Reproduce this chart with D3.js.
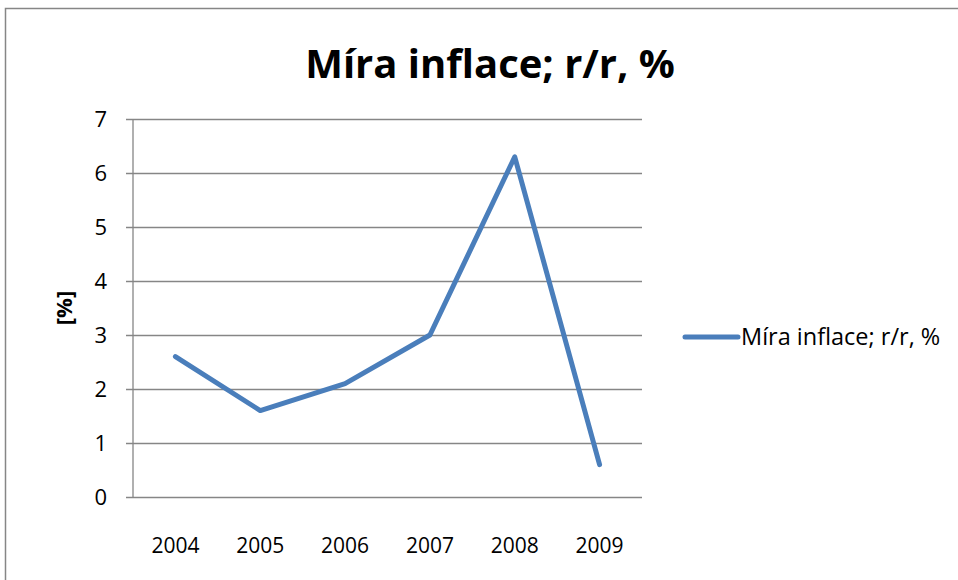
<!DOCTYPE html>
<html>
<head>
<meta charset="utf-8">
<script src="https://cdn.jsdelivr.net/npm/d3@7"></script>
<style>
  body { margin: 0; background: #fff; }
  text { font-family: "Open Sans", Lato, sans-serif; fill: #000; }
</style>
</head>
<body>
<div id="chart"></div>
<script>
var years = ["2004", "2005", "2006", "2007", "2008", "2009"];
var inflation = [2.6, 1.6, 2.1, 3.0, 6.3, 0.6];
var yTicks = [0, 1, 2, 3, 4, 5, 6, 7];
var seriesName = "Míra inflace; r/r, %";
var chartTitle = "Míra inflace; r/r, %";
var yTitle = "[%]";

var width = 958, height = 580;
var plot = { left: 133, right: 642, top: 119, bottom: 497 };

var svg = d3.select("#chart")
    .append("svg")
    .attr("width", width)
    .attr("height", height);

// outer chart border
svg.append("rect")
    .attr("x", 5.5)
    .attr("y", 8.5)
    .attr("width", 960)
    .attr("height", 600)
    .attr("fill", "none")
    .attr("stroke", "#868686")
    .attr("stroke-width", 1.5);

var x = d3.scaleBand()
    .domain(years)
    .range([plot.left, plot.right]);

var y = d3.scaleLinear()
    .domain([0, 7])
    .range([plot.bottom, plot.top]);

// gridlines + left ticks
var yAxis = svg.append("g")
    .attr("transform", `translate(${plot.left},0)`)
    .call(d3.axisLeft(y)
        .tickValues(yTicks)
        .tickSize(-(plot.right - plot.left))
        .tickPadding(0)
        .tickFormat(""));
yAxis.select(".domain").remove();
yAxis.selectAll(".tick line")
    .attr("stroke", "#868686")
    .attr("stroke-width", 1.3)
    .attr("x1", -7);

yAxis.selectAll(".tick")
    .append("text")
    .attr("x", -26)
    .attr("dy", "0.36em")
    .attr("text-anchor", "end")
    .style("font-size", "22px")
    .text(d => d);

// vertical axis line
svg.append("line")
    .attr("x1", plot.left).attr("x2", plot.left)
    .attr("y1", plot.top).attr("y2", plot.bottom + 1)
    .attr("stroke", "#868686")
    .attr("stroke-width", 1.3);

// category labels
svg.append("g")
    .selectAll("text")
    .data(years)
    .join("text")
    .attr("x", d => x(d) + x.bandwidth() / 2)
    .attr("y", 553)
    .attr("text-anchor", "middle")
    .style("font-size", "21px")
    .text(d => d);

// series line
var line = d3.line()
    .x((d, i) => x(years[i]) + x.bandwidth() / 2)
    .y(d => y(d));

svg.append("path")
    .datum(inflation)
    .attr("d", line)
    .attr("fill", "none")
    .attr("stroke", "#4a7ebb")
    .attr("stroke-width", 5)
    .attr("stroke-linejoin", "round")
    .attr("stroke-linecap", "round");

// title
svg.append("text")
    .attr("x", 490)
    .attr("y", 78)
    .attr("text-anchor", "middle")
    .style("font-size", "40px")
    .style("font-weight", "bold")
    .text(chartTitle);

// y axis title
svg.append("text")
    .attr("transform", `translate(72,${(plot.top + plot.bottom) / 2}) rotate(-90)`)
    .attr("text-anchor", "middle")
    .style("font-size", "22px")
    .style("font-weight", "bold")
    .text(yTitle);

// legend
var legend = svg.append("g").attr("transform", "translate(685,337)");
legend.append("line")
    .attr("x1", 0).attr("x2", 53)
    .attr("stroke", "#4a7ebb")
    .attr("stroke-width", 5)
    .attr("stroke-linecap", "round");
legend.append("text")
    .attr("x", 56)
    .attr("dy", "0.36em")
    .style("font-size", "23.5px")
    .text(seriesName);
</script>
</body>
</html>
